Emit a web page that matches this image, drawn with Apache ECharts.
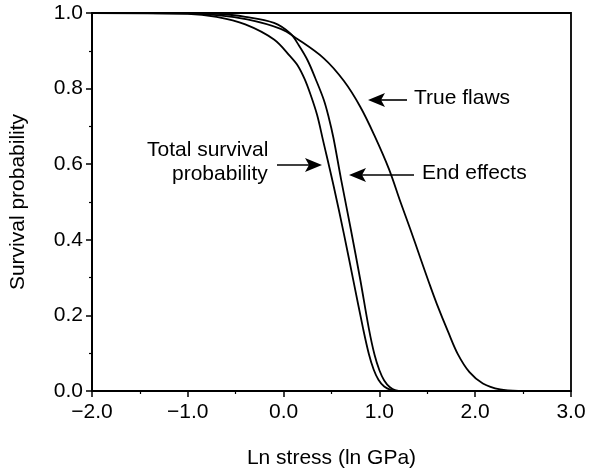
<!DOCTYPE html>
<html>
<head>
<meta charset="utf-8">
<script src="https://cdn.jsdelivr.net/npm/echarts@6/dist/echarts.min.js"></script>
<style>
html,body{margin:0;padding:0;background:#fff;}
#chart{width:597px;height:474px;}
</style>
</head>
<body>
<div id="chart"></div>
<script>
// Data
var totalX = [-2.0, -1.0, -0.7, -0.4, -0.1, 0.07, 0.15, 0.22, 0.28, 0.35, 0.41, 0.52, 0.63, 0.73, 0.83, 0.89, 0.94, 0.99, 1.05, 1.12, 1.20];
var totalY = [1.0, 0.998, 0.99, 0.97, 0.93, 0.885, 0.86, 0.825, 0.785, 0.73, 0.665, 0.545, 0.415, 0.29, 0.165, 0.098, 0.057, 0.03, 0.012, 0.003, 0.0];

var endX = [-2.0, -1.0, -0.7, -0.4, -0.1, 0.07, 0.16, 0.25, 0.33, 0.42, 0.47, 0.52, 0.60, 0.70, 0.80, 0.89, 0.95, 1.00, 1.05, 1.11, 1.17, 1.24];
var endY = [1.0, 1.0, 0.998, 0.99, 0.974, 0.946, 0.914, 0.875, 0.828, 0.77, 0.725, 0.67, 0.56, 0.43, 0.295, 0.165, 0.095, 0.055, 0.028, 0.01, 0.002, 0.0];

var flawX = [-2.0, -1.0, -0.73, -0.38, -0.03, 0.14, 0.42, 0.63, 0.80, 0.95, 1.10, 1.22, 1.32, 1.43, 1.52, 1.60, 1.72, 1.82, 1.94, 2.08, 2.26, 2.45];
var flawY = [1.0, 0.999, 0.995, 0.983, 0.958, 0.932, 0.88, 0.82, 0.752, 0.675, 0.587, 0.50, 0.43, 0.35, 0.285, 0.23, 0.155, 0.097, 0.05, 0.02, 0.004, 0.0];

var xTicks = [-2.0, -1.0, 0.0, 1.0, 2.0, 3.0];
var yTicks = [0.0, 0.2, 0.4, 0.6, 0.8, 1.0];

var xTitle = 'Ln stress (ln GPa)';
var yTitle = 'Survival probability';

function zip(xs, ys) { return xs.map(function (x, i) { return [x, ys[i]]; }); }

var FONT = "'Liberation Sans', Arial, Helvetica, sans-serif";
var FS = 21;

var chart = echarts.init(document.getElementById('chart'), null, {renderer: 'canvas'});

function lineSeries(name, data) {
  return {
    name: name, type: 'line', data: data, smooth: 0.35,
    showSymbol: false, symbol: 'none',
    lineStyle: {color: '#000', width: 1.8}, z: 3, animation: false
  };
}

var txt = {fontFamily: FONT, fontSize: FS, fill: '#000'};

chart.setOption({
  animation: false,
  backgroundColor: '#fff',
  grid: {left: 91, right: 26, top: 13, bottom: 73, show: true, borderColor: '#000', borderWidth: 1.8},
  xAxis: {
    type: 'value', min: xTicks[0], max: xTicks[xTicks.length - 1], interval: 1,
    name: xTitle, nameLocation: 'middle', nameGap: 57,
    nameTextStyle: {fontFamily: FONT, fontSize: FS, color: '#000'},
    axisLine: {show: true, onZero: false, lineStyle: {color: '#000', width: 2}},
    axisTick: {show: true, inside: false, length: 6, lineStyle: {color: '#000', width: 1.5}},
    minorTick: {show: true, splitNumber: 2, length: 3, lineStyle: {color: '#000', width: 1.2}},
    splitLine: {show: false},
    axisLabel: {fontFamily: FONT, fontSize: FS, color: '#000', margin: 11,
      formatter: function (v) { return v < 0 ? '\u2212' + Math.abs(v).toFixed(1) : v.toFixed(1); }}
  },
  yAxis: {
    type: 'value', min: yTicks[0], max: yTicks[yTicks.length - 1], interval: 0.2,
    name: yTitle, nameLocation: 'middle', nameGap: 63, nameRotate: 90,
    nameTextStyle: {fontFamily: FONT, fontSize: FS, color: '#000'},
    axisLine: {show: true, onZero: false, lineStyle: {color: '#000', width: 2}},
    axisTick: {show: true, inside: false, length: 6, lineStyle: {color: '#000', width: 1.5}},
    minorTick: {show: true, splitNumber: 2, length: 3, lineStyle: {color: '#000', width: 1.2}},
    splitLine: {show: false},
    axisLabel: {fontFamily: FONT, fontSize: FS, color: '#000', margin: 9,
      formatter: function (v) { return v.toFixed(1); }}
  },
  series: [
    lineSeries('Total survival probability', zip(totalX, totalY)),
    lineSeries('End effects', zip(endX, endY)),
    lineSeries('True flaws', zip(flawX, flawY))
  ],
  graphic: [
    {type: 'text', left: 147, top: 140, style: Object.assign({text: 'Total survival', textAlign: 'left'}, txt)},
    {type: 'text', left: 172, top: 164, style: Object.assign({text: 'probability', textAlign: 'left'}, txt)},
    {type: 'text', left: 422, top: 163, style: Object.assign({text: 'End effects'}, txt)},
    {type: 'text', left: 414, top: 88, style: Object.assign({text: 'True flaws'}, txt)},
    // arrows
    {type: 'line', shape: {x1: 277, y1: 165, x2: 312, y2: 165}, style: {stroke: '#000', lineWidth: 1.6}},
    {type: 'polygon', shape: {points: [[322, 165], [305, 158], [309, 165], [305, 172]]}, style: {fill: '#000'}},
    {type: 'line', shape: {x1: 358, y1: 175, x2: 414, y2: 175}, style: {stroke: '#000', lineWidth: 1.6}},
    {type: 'polygon', shape: {points: [[349, 175], [366, 168], [362, 175], [366, 182]]}, style: {fill: '#000'}},
    {type: 'line', shape: {x1: 377, y1: 100, x2: 407, y2: 100}, style: {stroke: '#000', lineWidth: 1.6}},
    {type: 'polygon', shape: {points: [[368, 100], [385, 93], [381, 100], [385, 107]]}, style: {fill: '#000'}}
  ]
});
</script>
</body>
</html>
